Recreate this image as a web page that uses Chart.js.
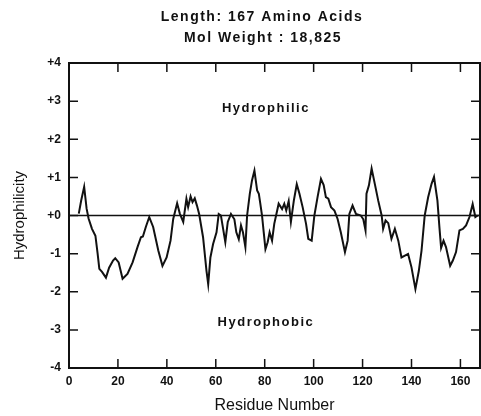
<!DOCTYPE html>
<html>
<head>
<meta charset="utf-8">
<script src="https://cdn.jsdelivr.net/npm/chart.js@4.4.0/dist/chart.umd.min.js"></script>
<style>
    html, body { margin: 0; padding: 0; background: #fff; }
</style>
</head>
<body>
<canvas id="hydroChart" width="481" height="416"></canvas>
<script>
        // Hydrophilicity profile
        const residues = [
            4, 5, 6.2, 7.2, 8, 9.4, 10.8, 11.7, 12.4, 13.5,
            15.1, 16.4, 18, 18.9, 20.3, 21.9, 23.9, 26, 28, 29.4,
            30.2, 31.4, 32.8, 34.4, 36.5, 38.2, 39.9, 41.5, 42.6, 44.2,
            45.3, 46.7, 48, 48.7, 49.7, 50.5, 51.4, 52.3, 53.2, 54.8,
            56.2, 56.9, 57.8, 58.9, 60.3, 61.2, 62.1, 63, 63.9, 64.9,
            66.2, 67.6, 68.4, 69.4, 70.3, 71.1, 72.1, 72.8, 73.9, 74.8,
            75.8, 76.9, 77.6, 78.2, 78.9, 79.6, 80.3, 81.2, 82, 83,
            83.9, 85.7, 87.1, 88, 88.8, 89.8, 90.7, 91.9, 93.1, 94.2,
            95.5, 96.9, 97.8, 99.2, 100.3, 101.6, 103, 104.1, 105, 106,
            107.1, 108.5, 109.8, 111.1, 112.8, 113.9, 114.6, 115.9, 117.3, 119.3,
            120.3, 121.2, 121.6, 122.6, 123.7, 125, 126.4, 127.8, 128.4, 129.4,
            130.5, 131.8, 133.2, 134.6, 135.9, 137.3, 138.6, 140, 141.6, 143,
            144.1, 145.4, 146.8, 148.2, 149.2, 150.6, 151.4, 152.1, 153.1, 154.1,
            155.8, 156.9, 158.2, 159.6, 161, 162.3, 163.7, 165, 166.1, 167
        ];
        const hydrophilicity = [
            0.05, 0.4, 0.75, 0.18, -0.08, -0.35, -0.53, -1.0, -1.4, -1.48,
            -1.63, -1.37, -1.18, -1.12, -1.23, -1.66, -1.53, -1.23, -0.83, -0.57,
            -0.55, -0.3, -0.04, -0.3, -0.92, -1.32, -1.1, -0.66, -0.09, 0.32,
            0.05, -0.17, 0.44, 0.22, 0.5, 0.35, 0.45, 0.26, 0.04, -0.57,
            -1.45, -1.8, -1.1, -0.75, -0.44, 0.04, 0.0, -0.35, -0.7, -0.17,
            0.04, -0.1, -0.44, -0.62, -0.26, -0.44, -0.83, 0, 0.57, 0.92,
            1.18, 0.66, 0.57, 0.31, 0, -0.44, -0.88, -0.7, -0.44, -0.66,
            -0.22, 0.31, 0.17, 0.31, 0.13, 0.38, -0.17, 0.39, 0.82, 0.57,
            0.22, -0.22, -0.61, -0.66, 0, 0.48, 0.96, 0.8, 0.48, 0.44,
            0.22, 0.13, -0.09, -0.44, -0.96, -0.66, 0.04, 0.26, 0.04, 0,
            -0.1, -0.39, 0.57, 0.79, 1.23, 0.83, 0.39, 0, -0.35, -0.13,
            -0.2, -0.61, -0.35, -0.66, -1.1, -1.05, -1.01, -1.36, -1.93, -1.45,
            -0.92, 0, 0.48, 0.83, 1.01, 0.39, -0.3, -0.85, -0.66, -0.83,
            -1.32, -1.18, -0.96, -0.39, -0.35, -0.26, -0.04, 0.3, -0.04, 0
        ];
        const xRange = [0, 168];
        const yRange = [-4, 4];
        const headerLines = ['Length: 167 Amino Acids', 'Mol Weight : 18,825'];
        const regionLabels = ['Hydrophilic', 'Hydrophobic'];
        const regionLevel = 2.8;
        const regionResidue = 80.5;

        const INK = '#111';
        const TICK = 9;

        // frame, inward ticks, zero line and the printed labels
        const framePlugin = {
            id: 'frame',
            beforeDatasetsDraw(chart) {
                const { ctx, chartArea: a, scales } = chart;
                const y0 = scales.y.getPixelForValue(0);
                ctx.save();
                ctx.strokeStyle = INK;
                ctx.lineWidth = 1.5;
                ctx.beginPath();
                ctx.moveTo(a.left, y0);
                ctx.lineTo(a.right, y0);
                ctx.stroke();
                ctx.restore();
            },
            afterDatasetsDraw(chart) {
                const { ctx, chartArea: a, scales } = chart;
                ctx.save();
                ctx.strokeStyle = INK;
                ctx.lineWidth = 2;
                ctx.strokeRect(a.left, a.top, a.right - a.left, a.bottom - a.top);

                ctx.lineWidth = 1.5;
                ctx.beginPath();
                scales.x.ticks.forEach(t => {
                    const px = scales.x.getPixelForValue(t.value);
                    ctx.moveTo(px, a.bottom);
                    ctx.lineTo(px, a.bottom - TICK);
                    ctx.moveTo(px, a.top);
                    ctx.lineTo(px, a.top + TICK);
                });
                scales.y.ticks.forEach(t => {
                    const py = scales.y.getPixelForValue(t.value);
                    ctx.moveTo(a.left, py);
                    ctx.lineTo(a.left + TICK, py);
                    ctx.moveTo(a.right, py);
                    ctx.lineTo(a.right - TICK, py);
                });
                ctx.stroke();
                ctx.restore();
            },
            afterDraw(chart) {
                const { ctx, scales } = chart;
                ctx.save();
                ctx.fillStyle = INK;
                ctx.textAlign = 'center';
                ctx.textBaseline = 'alphabetic';
                ctx.letterSpacing = '1.5px';
                ctx.font = 'bold 14px "Liberation Sans", Arial, sans-serif';
                ctx.fillText(headerLines[0], 262, 21);
                ctx.fillText(headerLines[1], 263, 42);

                ctx.letterSpacing = '1.5px';
                ctx.font = 'bold 13px "Liberation Sans", Arial, sans-serif';
                ctx.textBaseline = 'middle';
                const lx = scales.x.getPixelForValue(regionResidue);
                ctx.fillText(regionLabels[0], lx, scales.y.getPixelForValue(regionLevel));
                ctx.fillText(regionLabels[1], lx, scales.y.getPixelForValue(-regionLevel));
                ctx.restore();
            }
        };

        const ctx = document.getElementById('hydroChart').getContext('2d');

        const hydroChart = new Chart(ctx, {
            type: 'line',
            data: {
                datasets: [{
                    data: residues.map((r, i) => ({ x: r, y: hydrophilicity[i] })),
                    borderColor: INK,
                    borderWidth: 2,
                    pointRadius: 0,
                    tension: 0,
                    fill: false
                }]
            },
            options: {
                responsive: false,
                animation: false,
                layout: { padding: { top: 63, right: 1, left: 0, bottom: 0 } },
                plugins: {
                    legend: { display: false },
                    title: { display: false },
                    tooltip: { enabled: false }
                },
                scales: {
                    x: {
                        type: 'linear',
                        min: xRange[0],
                        max: xRange[1],
                        grid: { display: false, drawTicks: false },
                        border: { display: false },
                        ticks: {
                            stepSize: 20,
                            includeBounds: false,
                            padding: 6,
                            maxRotation: 0,
                            color: INK,
                            font: { family: '"Liberation Sans", Arial, sans-serif', size: 12, weight: 'bold' }
                        },
                        title: {
                            display: true,
                            text: 'Residue Number',
                            color: INK,
                            font: { family: '"Liberation Sans", Arial, sans-serif', size: 16 },
                            padding: { top: 0, bottom: 1 }
                        },
                        afterFit: s => { s.height = 48; }
                    },
                    y: {
                        min: yRange[0],
                        max: yRange[1],
                        grid: { display: false, drawTicks: false },
                        border: { display: false },
                        ticks: {
                            stepSize: 1,
                            padding: 8,
                            color: INK,
                            font: { family: '"Liberation Sans", Arial, sans-serif', size: 12, weight: 'bold' },
                            callback: v => v > 0 ? '+' + v : (v === 0 ? '+0' : String(v))
                        },
                        title: {
                            display: true,
                            text: 'Hydrophilicity',
                            color: INK,
                            font: { family: '"Liberation Sans", Arial, sans-serif', size: 15 },
                            padding: { top: 11, bottom: 0 }
                        },
                        afterFit: s => { s.width = 69; }
                    }
                }
            },
            plugins: [framePlugin]
        });
</script>
</body>
</html>
